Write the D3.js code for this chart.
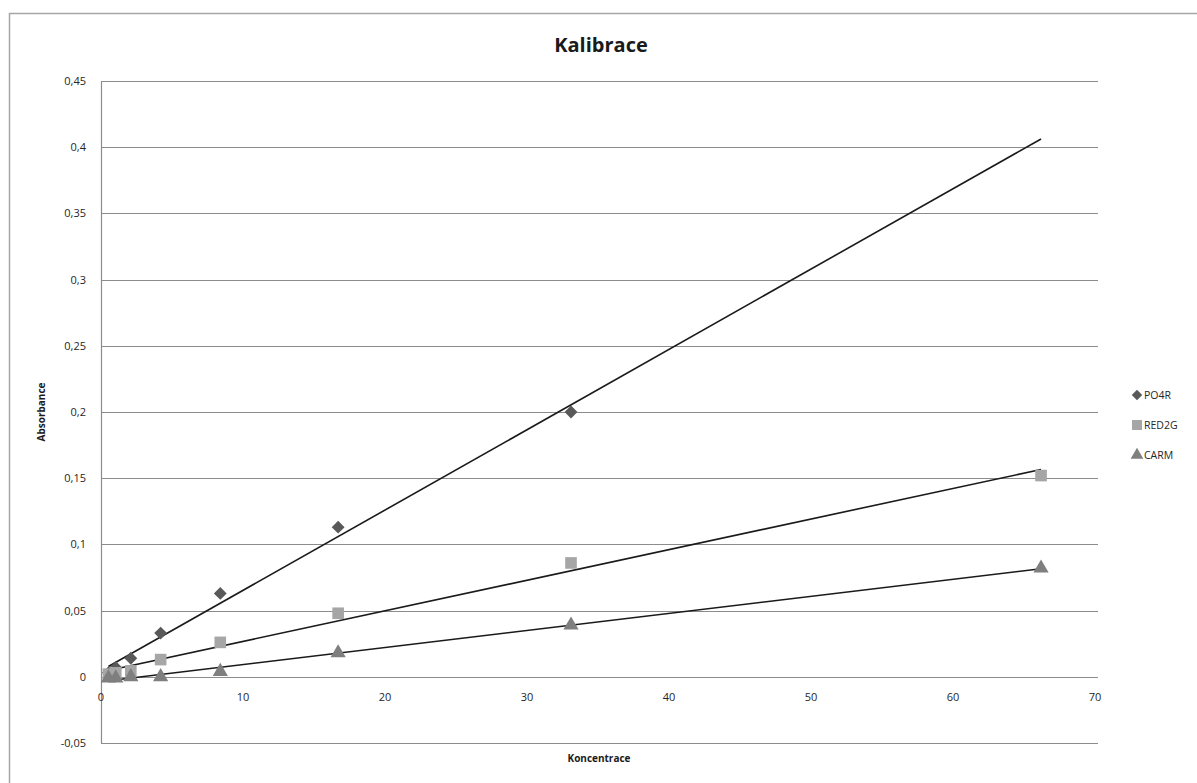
<!DOCTYPE html>
<html>
<head>
<meta charset="utf-8">
<script src="https://cdn.jsdelivr.net/npm/d3@7"></script>
<style>
  body { margin: 0; background: #fff; }
  text { font-family: "Open Sans", "Liberation Sans", sans-serif; }
</style>
</head>
<body>
<svg id="chart" width="1197" height="783"></svg>
<script>
// ---- data ----
const concentration = [0.52, 1.04, 2.1, 4.2, 8.4, 16.7, 33.1, 66.2];
const po4r  = [0.003, 0.007, 0.014, 0.033, 0.063, 0.113, 0.200, null];
const red2g = [0.002, 0.003, 0.0045, 0.013, 0.026, 0.048, 0.086, 0.152];
const carm  = [-0.001, -0.001, 0.000, 0.000, 0.004, 0.018, 0.039, 0.082];
const seriesNames = ["PO4R", "RED2G", "CARM"];
const yTicks = [-0.05, 0, 0.05, 0.1, 0.15, 0.2, 0.25, 0.3, 0.35, 0.4, 0.45];
const yTickLabels = ["-0,05", "0", "0,05", "0,1", "0,15", "0,2", "0,25", "0,3", "0,35", "0,4", "0,45"];
const xTicks = [0, 10, 20, 30, 40, 50, 60, 70];

const seriesValues = [po4r, red2g, carm];
const colors = ["#595959", "#a6a6a6", "#7f7f7f"];
const symbols = [d3.symbolDiamond2, d3.symbolSquare, d3.symbolTriangle];

const svg = d3.select("#chart");
const W = 1197, H = 783;
const m = { left: 101, top: 81 };

// outer frame
svg.append("rect").attr("x", 9.5).attr("y", 13.5).attr("width", 1200).attr("height", 800)
  .attr("fill", "#fff").attr("stroke", "#a6a6a6").attr("stroke-width", 1.5);

const x = d3.scaleLinear().domain([0, 70]).range([m.left, m.left + 994]);
const y = d3.scaleLinear().domain([-0.05, 0.45]).range([m.top + 662, m.top]);

// gridlines
svg.append("g").selectAll("line").data(yTicks).join("line")
  .attr("x1", x(0)).attr("x2", 1098)
  .attr("y1", d => Math.round(y(d)) + 0.5).attr("y2", d => Math.round(y(d)) + 0.5)
  .attr("stroke", "#8c8c8c").attr("stroke-width", 1.2);

// y axis line
svg.append("line").attr("x1", Math.round(x(0)) + 0.5).attr("x2", Math.round(x(0)) + 0.5)
  .attr("y1", y(0.45)).attr("y2", y(-0.05))
  .attr("stroke", "#8c8c8c").attr("stroke-width", 1.2);

// y tick labels
svg.append("g").selectAll("text").data(yTicks).join("text")
  .attr("x", 86).attr("y", d => y(d) + 4)
  .attr("text-anchor", "end").attr("font-size", 11).attr("fill", "#262626")
  .text((d, i) => yTickLabels[i]);

// x tick labels
svg.append("g").selectAll("text").data(xTicks).join("text")
  .attr("x", d => x(d)).attr("y", 701)
  .attr("text-anchor", "middle").attr("font-size", 11).attr("fill", "#262626")
  .text(d => d);

// trendlines (least squares)
const xMin = d3.min(concentration), xMax = d3.max(concentration);
seriesValues.forEach((vals) => {
  const pts = concentration.map((c, i) => [c, vals[i]]).filter(p => p[1] !== null);
  const mx = d3.mean(pts, p => p[0]), my = d3.mean(pts, p => p[1]);
  const slope = d3.sum(pts, p => (p[0] - mx) * (p[1] - my)) / d3.sum(pts, p => (p[0] - mx) ** 2);
  const icpt = my - slope * mx;
  svg.append("line")
    .attr("x1", x(xMin)).attr("y1", y(icpt + slope * xMin))
    .attr("x2", x(xMax)).attr("y2", y(icpt + slope * xMax))
    .attr("stroke", "#1a1a1a").attr("stroke-width", 1.6);
});

// markers
seriesValues.forEach((vals, s) => {
  const size = s === 0 ? 105 : (s === 1 ? 135 : 100);
  svg.append("g").selectAll("path")
    .data(concentration.map((c, i) => [c, vals[i]]).filter(p => p[1] !== null))
    .join("path")
    .attr("transform", p => `translate(${x(p[0])},${y(p[1])})`)
    .attr("d", d3.symbol().type(symbols[s]).size(size))
    .attr("fill", colors[s]);
});

// title
svg.append("text").attr("x", 601).attr("y", 52).attr("text-anchor", "middle")
  .attr("font-size", 20).attr("font-weight", "bold").attr("fill", "#1a1a1a").text("Kalibrace");

// axis titles
svg.append("text").attr("x", 599).attr("y", 762).attr("text-anchor", "middle")
  .attr("font-size", 10).attr("font-weight", "bold").attr("fill", "#1a1a1a").text("Koncentrace");
svg.append("text").attr("transform", "translate(45,412) rotate(-90)").attr("text-anchor", "middle")
  .attr("font-size", 10).attr("font-weight", "bold").attr("fill", "#1a1a1a").text("Absorbance");

// legend
const lg = svg.append("g");
seriesNames.forEach((name, i) => {
  const ly = 395 + i * 30;
  lg.append("path").attr("transform", `translate(1137,${ly})`)
    .attr("d", d3.symbol().type(symbols[i]).size(i === 1 ? 100 : 70)).attr("fill", colors[i]);
  lg.append("text").attr("x", 1144).attr("y", ly + 4).attr("font-size", 10.5)
    .attr("fill", "#262626").text(name);
});
</script>
</body>
</html>
